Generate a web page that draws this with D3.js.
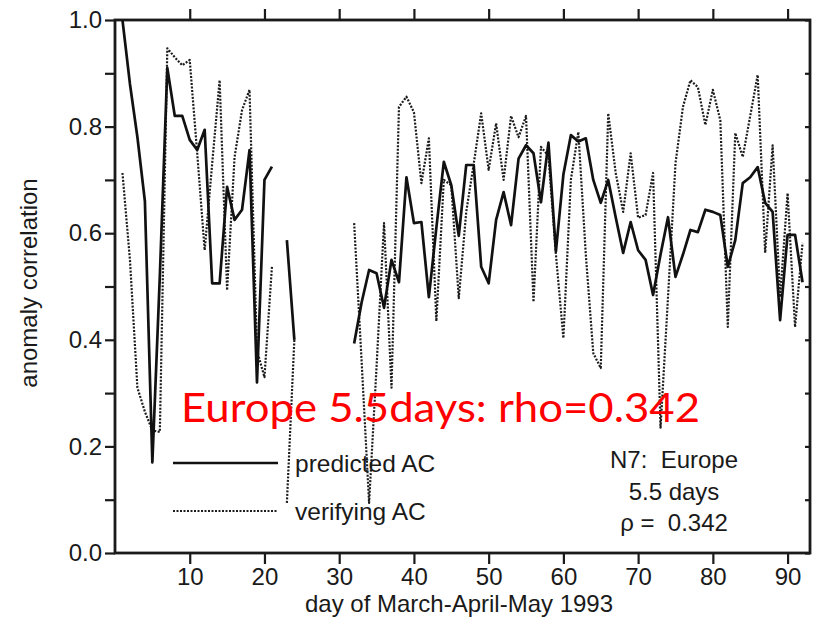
<!DOCTYPE html>
<html>
<head>
<meta charset="utf-8">
<script src="https://cdn.jsdelivr.net/npm/d3@7"></script>
<style>
  html, body { margin: 0; padding: 0; background: #fff; }
  svg { display: block; }
  .ink { font-family: "Liberation Sans", Arial, Helvetica, sans-serif; fill: #1a1a1a; }
</style>
</head>
<body>
<svg id="chart" width="814" height="623"></svg>
<script>
// ---- data (day 1..92 of March-April-May 1993; null = missing) ----
const predictedAC = [
  1.00, 0.88, 0.78, 0.66, 0.17, 0.52, 0.91, 0.82, 0.82, 0.775,
  0.756, 0.794, 0.506, 0.506, 0.687, 0.625, 0.644, 0.756, 0.32, 0.70,
  0.725, null, 0.587, 0.40, null, null, null, null, null, null,
  null, 0.393, 0.47, 0.531, 0.525, 0.46, 0.55, 0.508, 0.705, 0.619,
  0.621, 0.48, 0.61, 0.734, 0.69, 0.595, 0.728, 0.728, 0.537, 0.506,
  0.625, 0.677, 0.615, 0.74, 0.765, 0.75, 0.658, 0.77, 0.566, 0.71,
  0.784, 0.772, 0.778, 0.70, 0.657, 0.70, 0.63, 0.563, 0.621, 0.568,
  0.55, 0.484, 0.56, 0.63, 0.518, 0.56, 0.606, 0.602, 0.644, 0.64,
  0.634, 0.537, 0.587, 0.694, 0.705, 0.724, 0.657, 0.64, 0.437, 0.597,
  0.597, 0.508
];
const verifyingAC = [
  0.713, 0.55, 0.31, 0.265, 0.23, 0.227, 0.947, 0.93, 0.915, 0.925,
  0.75, 0.568, 0.73, 0.887, 0.493, 0.743, 0.831, 0.869, 0.38, 0.33,
  0.537, null, 0.094, 0.40, null, null, null, null, null, null,
  null, 0.619, 0.36, 0.094, 0.35, 0.619, 0.31, 0.837, 0.856, 0.827,
  0.694, 0.778, 0.435, 0.70, 0.69, 0.478, 0.64, 0.73, 0.825, 0.719,
  0.806, 0.70, 0.82, 0.78, 0.82, 0.471, 0.762, 0.745, 0.56, 0.403,
  0.70, 0.79, 0.56, 0.375, 0.347, 0.825, 0.713, 0.64, 0.75, 0.629,
  0.634, 0.713, 0.235, 0.48, 0.731, 0.837, 0.887, 0.874, 0.803, 0.869,
  0.812, 0.424, 0.788, 0.743, 0.82, 0.897, 0.563, 0.765, 0.48, 0.675,
  0.424, 0.582
];
const xTickValues = [10, 20, 30, 40, 50, 60, 70, 80, 90];
const yTickValues = [0.0, 0.1, 0.2, 0.3, 0.4, 0.5, 0.6, 0.7, 0.8, 0.9, 1.0];
const yLabelValues = [0.0, 0.2, 0.4, 0.6, 0.8, 1.0];
const xDomain = [0, 93];
const yDomain = [0, 1];
const seriesNames = ["predicted AC", "verifying AC"];
const xTitle = "day of March-April-May 1993";
const yTitle = "anomaly correlation";
const boxLines = ["N7:  Europe", "5.5 days", "\u03c1 =  0.342"];
const overlayText = "Europe 5.5days: rho=0.342";

// ---- layout ----
const L = 115, R = 810, T = 20, B = 553;
const svg = d3.select("#chart");
const x = d3.scaleLinear().domain(xDomain).range([L, R]);
const y = d3.scaleLinear().domain(yDomain).range([B, T]);
const ink = "#1a1a1a";

svg.append("defs").append("clipPath").attr("id", "plotclip")
  .append("rect").attr("x", L).attr("y", T).attr("width", R - L).attr("height", B - T);

// axes
const isLabeled = d => yLabelValues.some(v => Math.abs(v - d) < 1e-9);
const gLeft = svg.append("g").attr("transform", `translate(${L},0)`)
  .call(d3.axisLeft(y).tickValues(yTickValues).tickSize(10).tickPadding(3)
    .tickFormat(d => isLabeled(d) ? d3.format(".1f")(d) : ""));
const gRight = svg.append("g").attr("transform", `translate(${R},0)`)
  .call(d3.axisLeft(y).tickValues(yTickValues).tickSize(5).tickFormat(""));
const gBottom = svg.append("g").attr("transform", `translate(0,${B})`)
  .call(d3.axisBottom(x).tickValues(xTickValues).tickSize(11).tickPadding(4).tickFormat(d3.format("d")));
const gTop = svg.append("g").attr("transform", `translate(0,${T})`)
  .call(d3.axisTop(x).tickValues(xTickValues).tickSize(11).tickFormat(""));

[gLeft, gRight, gBottom, gTop].forEach(g => {
  g.select(".domain").remove();
  g.selectAll(".tick line").attr("stroke", ink).attr("stroke-width", 2.2);
  g.selectAll(".tick text").attr("class", "ink").style("font-size", "24px").attr("fill", ink);
});

// frame
svg.append("rect").attr("x", L).attr("y", T).attr("width", R - L).attr("height", B - T)
  .attr("fill", "none").attr("stroke", ink).attr("stroke-width", 2.8);

// series
const toPoints = arr => arr.map((v, i) => ({ day: i + 1, v }));
const line = d3.line().defined(d => d.v !== null).x(d => x(d.day)).y(d => y(d.v));
const plot = svg.append("g").attr("clip-path", "url(#plotclip)");
plot.append("path").datum(toPoints(verifyingAC)).attr("d", line)
  .attr("fill", "none").attr("stroke", "#1c1c1c").attr("stroke-width", 2.2)
  .attr("stroke-dasharray", "2,1.5").attr("stroke-linejoin", "round");
plot.append("path").datum(toPoints(predictedAC)).attr("d", line)
  .attr("fill", "none").attr("stroke", "#111").attr("stroke-width", 2.7)
  .attr("stroke-linejoin", "round");

// axis titles
svg.append("text").attr("class", "ink").attr("x", 459).attr("y", 612)
  .attr("text-anchor", "middle").style("font-size", "24px").text(xTitle);
svg.append("text").attr("class", "ink")
  .attr("transform", `translate(37,283) rotate(-90)`)
  .attr("text-anchor", "middle").style("font-size", "24px").text(yTitle);

// legend
const legend = svg.append("g");
const legendY = [463, 511];
const legendStyles = [
  { stroke: "#111", width: 2.7, dash: null },
  { stroke: "#1c1c1c", width: 2.2, dash: "2,1.5" }
];
seriesNames.forEach((name, i) => {
  legend.append("line").attr("x1", 173).attr("x2", 278).attr("y1", legendY[i]).attr("y2", legendY[i])
    .attr("stroke", legendStyles[i].stroke).attr("stroke-width", legendStyles[i].width)
    .attr("stroke-dasharray", legendStyles[i].dash);
  legend.append("text").attr("class", "ink").attr("x", 295).attr("y", legendY[i] + 9)
    .style("font-size", "24.5px").text(name);
});

// annotation box text
boxLines.forEach((t, i) => {
  svg.append("text").attr("class", "ink").attr("x", 674).attr("y", 468 + i * 31.5)
    .attr("text-anchor", "middle").style("font-size", "24px").style("white-space", "pre").text(t);
});

// red overlay text
svg.append("text").attr("x", 181).attr("y", 422)
  .style("font-family", "Lato, 'Open Sans', sans-serif").style("font-size", "40px")
  .attr("fill", "#ff0000").attr("textLength", 519).attr("lengthAdjust", "spacingAndGlyphs")
  .text(overlayText);
</script>
</body>
</html>
